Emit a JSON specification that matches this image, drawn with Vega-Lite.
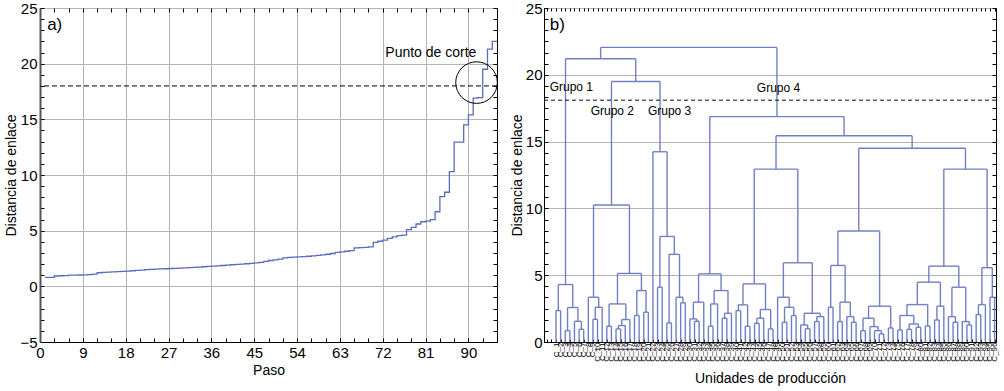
{
  "$schema": "https://vega.github.io/schema/vega-lite/v6.json",
  "padding": {"left": 4, "top": 0, "right": 0, "bottom": 0},
  "spacing": 8,
  "config": {
    "font": "Liberation Sans",
    "view": {"stroke": "#000", "strokeWidth": 1},
    "axis": {"labelFont": "Liberation Sans", "labelFontSize": 15, "labelColor": "#000", "titleFont": "Liberation Sans", "titleFontSize": 14, "titleFontWeight": "normal", "titleColor": "#000", "tickColor": "#000", "domainColor": "#000", "gridColor": "#b4b4b4", "labelOverlap": false, "labelFlush": false}
  },
  "hconcat": [
    {
      "width": 457,
      "height": 334,
      "layer": [
        {
          "data": {"values": [
            {"paso":1,"distancia":0.80},{"paso":2,"distancia":0.80},{"paso":3,"distancia":0.93},{"paso":4,"distancia":0.95},{"paso":5,"distancia":0.97},{"paso":6,"distancia":1.00},{"paso":7,"distancia":1.01},{"paso":8,"distancia":1.02},{"paso":9,"distancia":1.03},{"paso":10,"distancia":1.05},
            {"paso":11,"distancia":1.10},{"paso":12,"distancia":1.22},{"paso":13,"distancia":1.25},{"paso":14,"distancia":1.28},{"paso":15,"distancia":1.30},{"paso":16,"distancia":1.32},{"paso":17,"distancia":1.34},{"paso":18,"distancia":1.37},{"paso":19,"distancia":1.40},{"paso":20,"distancia":1.43},
            {"paso":21,"distancia":1.46},{"paso":22,"distancia":1.50},{"paso":23,"distancia":1.53},{"paso":24,"distancia":1.55},{"paso":25,"distancia":1.56},{"paso":26,"distancia":1.58},{"paso":27,"distancia":1.60},{"paso":28,"distancia":1.62},{"paso":29,"distancia":1.64},{"paso":30,"distancia":1.66},
            {"paso":31,"distancia":1.68},{"paso":32,"distancia":1.70},{"paso":33,"distancia":1.73},{"paso":34,"distancia":1.76},{"paso":35,"distancia":1.80},{"paso":36,"distancia":1.82},{"paso":37,"distancia":1.84},{"paso":38,"distancia":1.87},{"paso":39,"distancia":1.90},{"paso":40,"distancia":1.94},
            {"paso":41,"distancia":1.97},{"paso":42,"distancia":2.00},{"paso":43,"distancia":2.03},{"paso":44,"distancia":2.06},{"paso":45,"distancia":2.10},{"paso":46,"distancia":2.15},{"paso":47,"distancia":2.25},{"paso":48,"distancia":2.32},{"paso":49,"distancia":2.38},{"paso":50,"distancia":2.45},
            {"paso":51,"distancia":2.55},{"paso":52,"distancia":2.60},{"paso":53,"distancia":2.62},{"paso":54,"distancia":2.65},{"paso":55,"distancia":2.67},{"paso":56,"distancia":2.70},{"paso":57,"distancia":2.73},{"paso":58,"distancia":2.78},{"paso":59,"distancia":2.82},{"paso":60,"distancia":2.88},
            {"paso":61,"distancia":2.95},{"paso":62,"distancia":3.05},{"paso":63,"distancia":3.10},{"paso":64,"distancia":3.15},{"paso":65,"distancia":3.20},{"paso":66,"distancia":3.45},{"paso":67,"distancia":3.48},{"paso":68,"distancia":3.50},{"paso":69,"distancia":3.55},{"paso":70,"distancia":3.95},
            {"paso":71,"distancia":4.05},{"paso":72,"distancia":4.15},{"paso":73,"distancia":4.30},{"paso":74,"distancia":4.45},{"paso":75,"distancia":4.55},{"paso":76,"distancia":4.60},{"paso":77,"distancia":5.10},{"paso":78,"distancia":5.30},{"paso":79,"distancia":5.60},{"paso":80,"distancia":5.80},
            {"paso":81,"distancia":5.85},{"paso":82,"distancia":6.00},{"paso":83,"distancia":6.70},{"paso":84,"distancia":8.05},{"paso":85,"distancia":8.45},{"paso":86,"distancia":10.3},{"paso":87,"distancia":12.95},{"paso":88,"distancia":12.95},{"paso":89,"distancia":14.5},{"paso":90,"distancia":15.4},
            {"paso":91,"distancia":16.9},{"paso":92,"distancia":16.95},{"paso":93,"distancia":19.5},{"paso":94,"distancia":21.3},{"paso":95,"distancia":22.0},{"paso":96,"distancia":22.0}
          ]},
          "mark": {"type": "line", "interpolate": "step-after", "color": "#5b6bbf", "strokeWidth": 1.3},
          "encoding": {
            "x": {"field": "paso", "type": "quantitative", "scale": {"domain": [0, 96], "nice": false, "zero": false},
              "axis": {"title": "Paso", "titlePadding": 3, "labelPadding": 7, "tickSize": -4, "values": [0,3,6,9,12,15,18,21,24,27,30,33,36,39,42,45,48,51,54,57,60,63,66,69,72,75,78,81,84,87,90,93,96],
                "labelExpr": "datum.value % 9 === 0 ? datum.label : ''",
                "gridOpacity": {"condition": {"test": "datum.value % 9 === 0", "value": 1}, "value": 0}, "grid": true}},
            "y": {"field": "distancia", "type": "quantitative", "scale": {"domain": [-5, 25], "nice": false, "zero": false},
              "axis": {"title": "Distancia de enlace", "titlePadding": 1, "labelPadding": 7, "tickSize": -4, "domainWidth": 2, "domainColor": "#555",
                "values": [-5,-4,-3,-2,-1,0,1,2,3,4,5,6,7,8,9,10,11,12,13,14,15,16,17,18,19,20,21,22,23,24,25],
                "labelExpr": "datum.value % 5 === 0 ? datum.label : ''",
                "gridOpacity": {"condition": {"test": "datum.value % 5 === 0", "value": 1}, "value": 0}, "grid": true}}
          }
        },
        {
          "data": {"values": [{}]},
          "mark": {"type": "rule", "color": "#000", "strokeDash": [5, 3], "strokeWidth": 1},
          "encoding": {"y": {"datum": 18, "axis": null}}
        },
        {
          "data": {"values": [{}]},
          "mark": {"type": "point", "shape": "circle", "size": 1730, "filled": false, "color": "#000", "strokeWidth": 1, "opacity": 1},
          "encoding": {
            "x": {"datum": 91.7, "axis": {"orient": "top", "title": null, "labels": false, "grid": false, "domain": false, "tickSize": -4, "values": [0,3,6,9,12,15,18,21,24,27,30,33,36,39,42,45,48,51,54,57,60,63,66,69,72,75,78,81,84,87,90,93,96]}},
            "y": {"datum": 18.3, "axis": {"orient": "right", "title": null, "labels": false, "grid": false, "domain": false, "tickSize": -4, "values": [-5,-4,-3,-2,-1,0,1,2,3,4,5,6,7,8,9,10,11,12,13,14,15,16,17,18,19,20,21,22,23,24,25]}}
          }
        },
        {
          "data": {"values": [{}]},
          "mark": {"type": "text", "fontSize": 14, "align": "center", "baseline": "middle", "color": "#000"},
          "encoding": {"x": {"datum": 82.1, "axis": null}, "y": {"datum": 21.0, "axis": null}, "text": {"value": "Punto de corte"}}
        },
        {
          "data": {"values": [{}]},
          "mark": {"type": "text", "fontSize": 17, "align": "left", "baseline": "middle", "color": "#000"},
          "encoding": {"x": {"datum": 1.5, "axis": null}, "y": {"datum": 23.5, "axis": null}, "text": {"value": "a)"}}
        }
      ],
      "resolve": {"axis": {"x": "independent", "y": "independent"}}
    },
    {
      "width": 452,
      "height": 334,
      "layer": [
        {
          "data": {"name": "merges"},
          "mark": {"type": "rule", "color": "#7180c6", "strokeWidth": 1.4},
          "encoding": {
            "x": {"field": "xl", "type": "quantitative", "scale": {"domain": [-2.6, 95.3], "nice": false, "zero": false},
              "axis": {"title": "Unidades de producción", "titlePadding": 10, "tickSize": -3, "labelFontSize": 8, "labelAngle": 270, "labelPadding": 3,
                "values": [-2,-1,0,1,2,3,4,5,6,7,8,9,10,11,12,13,14,15,16,17,18,19,20,21,22,23,24,25,26,27,28,29,30,31,32,33,34,35,36,37,38,39,40,41,42,43,44,45,46,47,48,49,50,51,52,53,54,55,56,57,58,59,60,61,62,63,64,65,66,67,68,69,70,71,72,73,74,75,76,77,78,79,80,81,82,83,84,85,86,87,88,89,90,91,92,93,94,95],
                "labelExpr": "datum.value >= 0 ? 'C_' + (datum.value + 1) : ''", "grid": false}},
            "x2": {"field": "xr"},
            "y": {"field": "h", "type": "quantitative", "scale": {"domain": [0, 25], "nice": false, "zero": false},
              "axis": {"title": "Distancia de enlace", "titlePadding": 1, "labelPadding": 6, "tickSize": -4,
                "values": [0,0.8333,1.6667,2.5,3.3333,4.1667,5,5.8333,6.6667,7.5,8.3333,9.1667,10,10.8333,11.6667,12.5,13.3333,14.1667,15,15.8333,16.6667,17.5,18.3333,19.1667,20,20.8333,21.6667,22.5,23.3333,24.1667,25],
                "labelExpr": "datum.value % 5 === 0 ? datum.label : ''",
                "gridOpacity": {"condition": {"test": "datum.value % 5 === 0", "value": 1}, "value": 0}, "grid": true}}
          }
        },
        {
          "data": {"name": "merges"},
          "mark": {"type": "rule", "color": "#7180c6", "strokeWidth": 1.4},
          "encoding": {
            "x": {"field": "xl", "type": "quantitative", "axis": null},
            "y": {"field": "yl", "type": "quantitative", "axis": null},
            "y2": {"field": "h"}
          }
        },
        {
          "data": {"name": "merges"},
          "mark": {"type": "rule", "color": "#7180c6", "strokeWidth": 1.4},
          "encoding": {
            "x": {"field": "xr", "type": "quantitative", "axis": null},
            "y": {"field": "yr", "type": "quantitative", "axis": null},
            "y2": {"field": "h"}
          }
        },
        {
          "data": {"values": [{}]},
          "mark": {"type": "rule", "color": "#111", "strokeDash": [4, 3], "strokeWidth": 1},
          "encoding": {"y": {"datum": 18.1, "axis": null}}
        },
        {
          "data": {"values": [{}]},
          "mark": {"type": "text", "fontSize": 12, "align": "left", "baseline": "middle", "color": "#000"},
          "encoding": {"x": {"datum": -1.37, "axis": null}, "y": {"datum": 19.05, "axis": null}, "text": {"value": "Grupo 1"}}
        },
        {
          "data": {"values": [{}]},
          "mark": {"type": "text", "fontSize": 12, "align": "center", "baseline": "middle", "color": "#000"},
          "encoding": {"x": {"datum": 12.2, "axis": null}, "y": {"datum": 17.3, "axis": null}, "text": {"value": "Grupo 2"}}
        },
        {
          "data": {"values": [{}]},
          "mark": {"type": "text", "fontSize": 12, "align": "center", "baseline": "middle", "color": "#000"},
          "encoding": {"x": {"datum": 24.6, "axis": null}, "y": {"datum": 17.3, "axis": null}, "text": {"value": "Grupo 3"}}
        },
        {
          "data": {"values": [{}]},
          "mark": {"type": "text", "fontSize": 12, "align": "center", "baseline": "middle", "color": "#000"},
          "encoding": {"x": {"datum": 48.2, "axis": null}, "y": {"datum": 19.0, "axis": null}, "text": {"value": "Grupo 4"}}
        },
        {
          "data": {"values": [{}]},
          "mark": {"type": "text", "fontSize": 17, "align": "left", "baseline": "middle", "color": "#000"},
          "encoding": {
            "x": {"datum": -1.37, "axis": {"orient": "top", "title": null, "labels": false, "grid": false, "domain": false, "tickSize": -3,
              "values": [-2,-1,0,1,2,3,4,5,6,7,8,9,10,11,12,13,14,15,16,17,18,19,20,21,22,23,24,25,26,27,28,29,30,31,32,33,34,35,36,37,38,39,40,41,42,43,44,45,46,47,48,49,50,51,52,53,54,55,56,57,58,59,60,61,62,63,64,65,66,67,68,69,70,71,72,73,74,75,76,77,78,79,80,81,82,83,84,85,86,87,88,89,90,91,92,93,94,95]}},
            "y": {"datum": 23.75, "axis": {"orient": "right", "title": null, "labels": false, "grid": false, "domain": false, "tickSize": -4,
              "values": [0,0.8333,1.6667,2.5,3.3333,4.1667,5,5.8333,6.6667,7.5,8.3333,9.1667,10,10.8333,11.6667,12.5,13.3333,14.1667,15,15.8333,16.6667,17.5,18.3333,19.1667,20,20.8333,21.6667,22.5,23.3333,24.1667,25]}},
            "text": {"value": "b)"}
          }
        }
      ],
      "resolve": {"axis": {"x": "independent", "y": "independent"}}
    }
  ],
  "datasets": {
    "merges": [
      {"xl":0,"yl":0,"xr":1,"yr":0,"h":2.35},
      {"xl":2,"yl":0,"xr":3,"yr":0,"h":0.85},
      {"xl":5,"yl":0,"xr":6,"yr":0,"h":0.95},
      {"xl":4,"yl":0,"xr":5.5,"yr":0.95,"h":1.55},
      {"xl":2.5,"yl":0.85,"xr":4.75,"yr":1.55,"h":2.58},
      {"xl":0.5,"yl":2.35,"xr":3.625,"yr":2.58,"h":4.3},
      {"xl":8,"yl":0,"xr":9,"yr":0,"h":1.7},
      {"xl":8.5,"yl":1.7,"xr":10,"yr":0,"h":2.6},
      {"xl":7,"yl":0,"xr":9.25,"yr":2.6,"h":3.35},
      {"xl":11,"yl":0,"xr":12,"yr":0,"h":1.18},
      {"xl":13,"yl":0,"xr":14,"yr":0,"h":0.98},
      {"xl":13.5,"yl":0.98,"xr":15,"yr":0,"h":1.23},
      {"xl":14.25,"yl":1.23,"xr":16,"yr":0,"h":1.68},
      {"xl":11.5,"yl":1.18,"xr":15.125,"yr":1.68,"h":2.85},
      {"xl":17,"yl":0,"xr":18,"yr":0,"h":1.98},
      {"xl":19,"yl":0,"xr":20,"yr":0,"h":2.23},
      {"xl":17.5,"yl":1.98,"xr":19.5,"yr":2.23,"h":3.85},
      {"xl":13.3125,"yl":2.85,"xr":18.5,"yr":3.85,"h":5.13},
      {"xl":8.125,"yl":3.35,"xr":15.90625,"yr":5.13,"h":10.26},
      {"xl":22,"yl":0,"xr":23,"yr":0,"h":4.1},
      {"xl":24,"yl":0,"xr":25,"yr":0,"h":1.43},
      {"xl":27,"yl":0,"xr":28,"yr":0,"h":2.93},
      {"xl":26,"yl":0,"xr":27.5,"yr":2.93,"h":3.35},
      {"xl":24.5,"yl":1.43,"xr":26.75,"yr":3.35,"h":6.56},
      {"xl":22.5,"yl":4.1,"xr":25.625,"yr":6.56,"h":7.9},
      {"xl":21,"yl":0,"xr":24.0625,"yr":7.9,"h":14.24},
      {"xl":12.015625,"yl":10.26,"xr":22.53125,"yr":14.24,"h":19.5},
      {"xl":2.0625,"yl":4.3,"xr":17.2734375,"yr":19.5,"h":21.2},
      {"xl":30,"yl":0,"xr":31,"yr":0,"h":1.55},
      {"xl":29,"yl":0,"xr":30.5,"yr":1.55,"h":1.73},
      {"xl":29.75,"yl":1.73,"xr":32,"yr":0,"h":2.98},
      {"xl":33,"yl":0,"xr":34,"yr":0,"h":1.18},
      {"xl":33.5,"yl":1.18,"xr":35,"yr":0,"h":2.85},
      {"xl":36,"yl":0,"xr":37,"yr":0,"h":1.78},
      {"xl":36.5,"yl":1.78,"xr":38,"yr":0,"h":2.15},
      {"xl":34.25,"yl":2.85,"xr":37.25,"yr":2.15,"h":3.85},
      {"xl":30.875,"yl":2.98,"xr":35.75,"yr":3.85,"h":5.1},
      {"xl":39,"yl":0,"xr":40,"yr":0,"h":2.35},
      {"xl":41,"yl":0,"xr":42,"yr":0,"h":1.18},
      {"xl":39.5,"yl":2.35,"xr":41.5,"yr":1.18,"h":2.78},
      {"xl":43,"yl":0,"xr":44,"yr":0,"h":1.4},
      {"xl":43.5,"yl":1.4,"xr":45,"yr":0,"h":1.78},
      {"xl":46,"yl":0,"xr":47,"yr":0,"h":0.98},
      {"xl":44.25,"yl":1.78,"xr":46.5,"yr":0.98,"h":2.43},
      {"xl":40.5,"yl":2.78,"xr":45.375,"yr":2.43,"h":4.35},
      {"xl":49,"yl":0,"xr":50,"yr":0,"h":1.48},
      {"xl":51,"yl":0,"xr":52,"yr":0,"h":1.98},
      {"xl":49.5,"yl":1.48,"xr":51.5,"yr":1.98,"h":2.6},
      {"xl":48,"yl":0,"xr":50.5,"yr":2.6,"h":3.35},
      {"xl":54,"yl":0,"xr":55,"yr":0,"h":1.0},
      {"xl":53,"yl":0,"xr":54.5,"yr":1.0,"h":1.28},
      {"xl":56,"yl":0,"xr":57,"yr":0,"h":1.53},
      {"xl":56.5,"yl":1.53,"xr":58,"yr":0,"h":1.9},
      {"xl":53.75,"yl":1.28,"xr":57.25,"yr":1.9,"h":2.15},
      {"xl":49.25,"yl":3.35,"xr":55.5,"yr":2.15,"h":5.93},
      {"xl":42.9375,"yl":4.35,"xr":52.375,"yr":5.93,"h":12.94},
      {"xl":59,"yl":0,"xr":60,"yr":0,"h":2.6},
      {"xl":61,"yl":0,"xr":62,"yr":0,"h":1.53},
      {"xl":64,"yl":0,"xr":65,"yr":0,"h":1.48},
      {"xl":63,"yl":0,"xr":64.5,"yr":1.48,"h":1.9},
      {"xl":61.5,"yl":1.53,"xr":63.75,"yr":1.9,"h":2.98},
      {"xl":59.5,"yl":2.6,"xr":62.625,"yr":2.98,"h":5.73},
      {"xl":66,"yl":0,"xr":67,"yr":0,"h":0.85},
      {"xl":70,"yl":0,"xr":71,"yr":0,"h":0.6},
      {"xl":69,"yl":0,"xr":70.5,"yr":0.6,"h":0.85},
      {"xl":68,"yl":0,"xr":69.75,"yr":0.85,"h":1.15},
      {"xl":66.5,"yl":0.85,"xr":68.875,"yr":1.15,"h":1.78},
      {"xl":72,"yl":0,"xr":73,"yr":0,"h":1.05},
      {"xl":67.6875,"yl":1.78,"xr":72.5,"yr":1.05,"h":2.68},
      {"xl":61.0625,"yl":5.73,"xr":70.09375,"yr":2.68,"h":8.31},
      {"xl":74,"yl":0,"xr":75,"yr":0,"h":0.9},
      {"xl":76,"yl":0,"xr":77,"yr":0,"h":0.95},
      {"xl":78,"yl":0,"xr":79,"yr":0,"h":1.1},
      {"xl":76.5,"yl":0.95,"xr":78.5,"yr":1.1,"h":1.35},
      {"xl":74.5,"yl":0.9,"xr":77.5,"yr":1.35,"h":1.98},
      {"xl":80,"yl":0,"xr":81,"yr":0,"h":1.2},
      {"xl":76,"yl":1.98,"xr":80.5,"yr":1.2,"h":2.8},
      {"xl":82,"yl":0,"xr":83,"yr":0,"h":1.65},
      {"xl":82.5,"yl":1.65,"xr":84,"yr":0,"h":2.68},
      {"xl":78.25,"yl":2.8,"xr":83.25,"yr":2.68,"h":4.48},
      {"xl":86,"yl":0,"xr":87,"yr":0,"h":1.48},
      {"xl":85,"yl":0,"xr":86.5,"yr":1.48,"h":1.9},
      {"xl":89,"yl":0,"xr":90,"yr":0,"h":1.28},
      {"xl":88,"yl":0,"xr":89.5,"yr":1.28,"h":1.53},
      {"xl":85.75,"yl":1.9,"xr":88.75,"yr":1.53,"h":4.1},
      {"xl":80.75,"yl":4.48,"xr":87.25,"yr":4.1,"h":5.68},
      {"xl":91,"yl":0,"xr":92,"yr":0,"h":2.05},
      {"xl":91.5,"yl":2.05,"xr":93,"yr":0,"h":2.8},
      {"xl":94,"yl":0,"xr":95,"yr":0,"h":3.35},
      {"xl":92.25,"yl":2.8,"xr":94.5,"yr":3.35,"h":5.56},
      {"xl":84,"yl":5.68,"xr":93.375,"yr":5.56,"h":12.94},
      {"xl":65.578125,"yl":8.31,"xr":88.6875,"yr":12.94,"h":14.5},
      {"xl":47.65625,"yl":12.94,"xr":77.1328125,"yr":14.5,"h":15.44},
      {"xl":33.3125,"yl":5.1,"xr":62.39453125,"yr":15.44,"h":16.87},
      {"xl":9.66796875,"yl":21.2,"xr":47.853515625,"yr":16.87,"h":22.05}
    ]
  }
}
